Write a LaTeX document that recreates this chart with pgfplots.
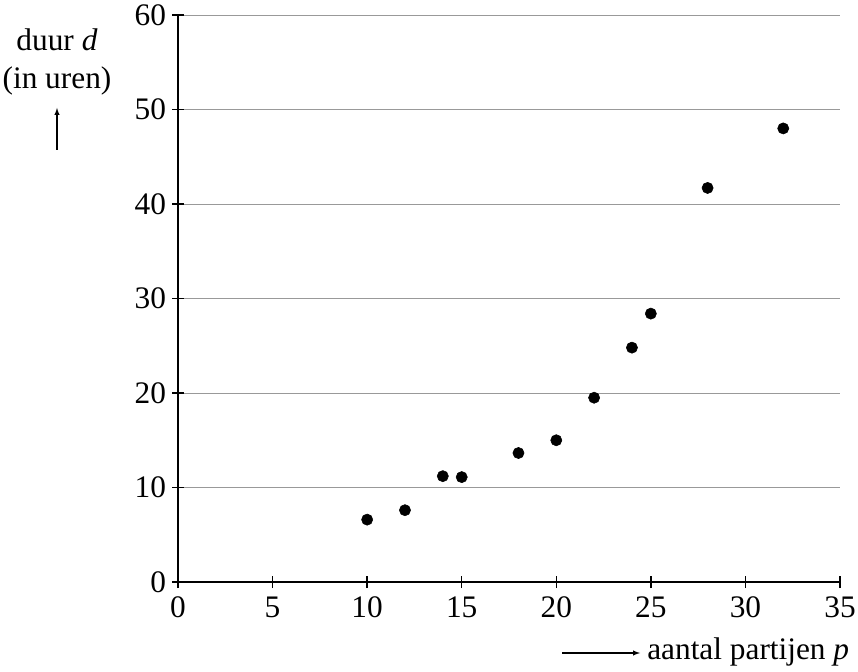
\documentclass[border=0pt]{standalone}
\usepackage{fontspec}
\setmainfont{Liberation Serif}
\usepackage{pgfplots}
\pgfplotsset{compat=1.18}
\begin{document}
\begin{tikzpicture}[x=0.75pt,y=0.75pt]
\path[use as bounding box] (0,0) rectangle (858,672);
\begin{axis}[
  at={(133.5pt,67.5pt)}, anchor=origin,
  scale only axis, width=496.5pt, height=425.25pt,
  xmin=0, xmax=35, ymin=0, ymax=60,
  xtick={0,5,...,35}, ytick={0,10,...,60},
  axis x line=bottom, axis y line=left,
  axis line style={-, line width=1.1pt},
  tick align=center, major tick length=9pt,
  tick style={line width=1.1pt, black},
  ymajorgrids, grid style={line width=0.6pt, gray!80},
  /pgf/number format/assume math mode=true,
  ticklabel style={font=\fontsize{23.5}{28}\selectfont},
  xticklabel style={yshift=-3pt},
  yticklabel style={xshift=-1pt},
  clip=false,
]
\addplot[only marks, mark=*, mark size=4.2pt, black] coordinates {
(10,6.6) (12,7.6) (14,11.2) (15,11.1) (18,13.65) (20,15.0)
(22,19.5) (24,24.8) (25,28.4) (28,41.7) (32,48.0)};
\end{axis}
\node[font=\fontsize{23.5}{28}\selectfont, align=center] at (57,672-62) {duur \textit{d}\\(in uren)};
\draw[-latex, line width=0.8pt] (57,672-150) -- (57,672-108);
\draw[-latex, line width=0.8pt] (562,672-653) -- (640,672-653);
\node[font=\fontsize{23.5}{28}\selectfont, anchor=west, inner sep=0pt] at (647,672-652) {aantal partijen \textit{p}};
\end{tikzpicture}
\end{document}
